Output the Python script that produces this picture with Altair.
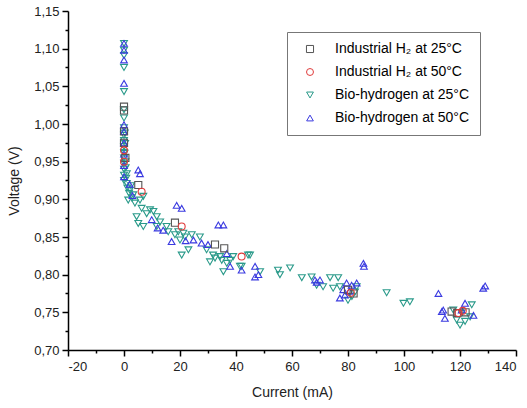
import altair as alt
import pandas as pd

series_names = ["Industrial H₂ at 25°C", "Industrial H₂ at 50°C",
                "Bio-hydrogen at 25°C", "Bio-hydrogen at 50°C"]

ind25_x = [0, 0, 0, 0, 0.5, 5.1, 18.2, 32.5, 35.8, 80, 82, 117, 119, 122]
ind25_y = [1.023, 1.018, 0.99, 0.975, 0.955, 0.919, 0.869, 0.84, 0.835, 0.78, 0.775, 0.751, 0.749, 0.75]

ind50_x = [0, 0, 6.3, 20.6, 42, 81, 119.4, 121]
ind50_y = [0.965, 0.95, 0.91, 0.864, 0.824, 0.776, 0.749, 0.752]

bio25_x = [0, 0, 0, 0, 0, 0, 0, 0, 0, 0, 0, 0, 0, 0, 0, 0, 0,
           0.3, 0.4, 0.2, 0.5, 1, 1, 2.1, 3.3, 1.5, 3.9, 5.7, 6.9, 6.3, 8.1, 4.5, 5.1, 6.9,
           9.3, 10.5, 11.7, 12.9, 11.7, 15.2, 15.8, 18.2, 19.4, 20, 21.8, 21.2, 23, 20.6,
           24.2, 27.1, 29.5, 30.7, 31.8, 32.5, 34.3, 34.9, 36.7, 35.5, 37.9, 39, 41.4, 42,
           44.3, 45, 48.6, 55, 55.7, 59.3, 63.5, 67, 68.8, 71.1, 73.6, 76.5, 74.7, 77.1,
           80, 81.4, 82.5, 83.1, 93.8, 99.8, 102.1, 117.6, 118.8, 120, 120.6, 121.8, 123.6, 124.2,
           0.8, 1.2, 2.5, 2.8, 0.6, 1.8]
bio25_y = [1.107, 1.098, 1.091, 1.075, 1.043, 1.019, 1.008, 0.995, 0.985, 0.978, 0.97, 0.962,
           0.955, 0.948, 0.94, 0.932, 0.925,
           0.988, 0.974, 0.961, 0.95, 0.934, 0.921, 0.912, 0.906, 0.899, 0.895, 0.899, 0.904,
           0.888, 0.881, 0.877, 0.868, 0.864,
           0.886, 0.884, 0.877, 0.87, 0.864, 0.864, 0.857, 0.853, 0.857, 0.846, 0.85, 0.855,
           0.833, 0.826,
           0.853, 0.85, 0.833, 0.817, 0.826, 0.822, 0.824, 0.819, 0.815, 0.804, 0.819, 0.824,
           0.811, 0.811,
           0.826, 0.826, 0.804, 0.806, 0.80, 0.809, 0.796, 0.797, 0.786, 0.784, 0.796, 0.796,
           0.782, 0.784,
           0.766, 0.771, 0.777, 0.784, 0.776, 0.762, 0.764, 0.753, 0.74, 0.733, 0.749, 0.738,
           0.744, 0.76,
           0.928, 0.915, 0.918, 0.902, 0.942, 0.908]

bio50_x = [0, 0, 0, 0, 0, 0, 0, 0, 0, 0,
           2, 3, 5.1, 5.7, 9.9, 12, 14, 17, 18.8, 20.6, 22, 24.8, 27.7, 30, 33.7, 35.5, 36.7,
           37.9, 42, 46.8, 46.8, 48, 68.2, 70, 68.8, 77.1, 78.3, 78.9, 79.5, 80.5, 81.3, 83.1,
           85.5, 85.7, 112.3, 113.5, 114, 114.6, 120.6, 121.8, 124.8, 128.3, 129]
bio50_y = [1.107, 1.098, 1.085, 1.054, 0.999, 0.99, 0.975, 0.96, 0.945, 0.93,
           0.92, 0.905, 0.939, 0.934, 0.873, 0.862, 0.859, 0.844, 0.892, 0.888, 0.845, 0.846,
           0.842, 0.84, 0.866, 0.866, 0.828,
           0.811, 0.806, 0.811, 0.797, 0.80, 0.793, 0.793, 0.79, 0.769, 0.78, 0.773, 0.789,
           0.778, 0.786, 0.789,
           0.815, 0.811, 0.775, 0.751, 0.753, 0.742, 0.753, 0.762, 0.746, 0.782, 0.785]

x_ticks = [-20, -10, 0, 10, 20, 30, 40, 50, 60, 70, 80, 90, 100, 110, 120, 130, 140]
y_ticks = [0.70, 0.725, 0.75, 0.775, 0.80, 0.825, 0.85, 0.875, 0.90, 0.925, 0.95, 0.975,
           1.00, 1.025, 1.05, 1.075, 1.10, 1.125, 1.15]

rows = []
for name, xs, ys in zip(series_names,
                        [ind25_x, ind50_x, bio25_x, bio50_x],
                        [ind25_y, ind50_y, bio25_y, bio50_y]):
    for a, b in zip(xs, ys):
        rows.append({"current": a, "voltage": b, "series": name})
df = pd.DataFrame(rows)

FONT = "Liberation Sans"
colors = ["#555555", "#e03c3c", "#2a9a8a", "#3a3ae0"]
shapes = ["square", "circle", "triangle-down", "triangle-up"]
sizes = [50, 45, 90, 90]

chart = alt.Chart(df).mark_point(filled=False, strokeWidth=1.1, opacity=1).encode(
    x=alt.X("current:Q", title="Current (mA)",
            scale=alt.Scale(domain=[-20, 140], nice=False, zero=False),
            axis=alt.Axis(values=x_ticks, grid=False,
                          labelExpr="datum.value % 20 === 0 ? (datum.value + '') : ''",
                          tickSize={"condition": {"test": "datum.value % 20 === 0", "value": 6}, "value": 3},
                          labelPadding=4, titlePadding=12)),
    y=alt.Y("voltage:Q", title="Voltage (V)",
            scale=alt.Scale(domain=[0.70, 1.15], nice=False, zero=False),
            axis=alt.Axis(values=y_ticks, grid=False,
                          labelExpr="round(datum.value*1000) % 50 === 0 ? replace(format(datum.value, '.2f'), '.', ',') : ''",
                          tickSize={"condition": {"test": "round(datum.value*1000) % 50 === 0", "value": 6}, "value": 3},
                          labelPadding=3, titlePadding=12)),
    color=alt.Color("series:N", scale=alt.Scale(domain=series_names, range=colors),
                    legend=alt.Legend(title=None, orient="none", legendX=219, legendY=21,
                                      strokeColor="#777777", padding=10, rowPadding=9,
                                      labelFontSize=14, labelFont=FONT, labelColor="#000000",
                                      symbolOffset=6, labelOffset=18, symbolStrokeWidth=1)),
    shape=alt.Shape("series:N", scale=alt.Scale(domain=series_names, range=shapes)),
    size=alt.Size("series:N", scale=alt.Scale(domain=series_names, range=sizes)),
    order=alt.Order("series:N"),
).properties(
    width=448, height=339,
    background="white",
    autosize=alt.AutoSizeParams(type="none"),
    padding={"left": 68, "top": 11, "right": 11, "bottom": 58},
).configure_view(stroke=None).configure_axis(
    domainColor="#000000", domainWidth=1.5, tickColor="#000000", tickWidth=1.5,
    labelFont=FONT, labelFontSize=13, labelColor="#222222",
    titleFont=FONT, titleFontSize=14, titleFontWeight="normal", titleColor="#222222",
)

chart.save("out.html", embed_options={"renderer": "svg", "actions": False})
